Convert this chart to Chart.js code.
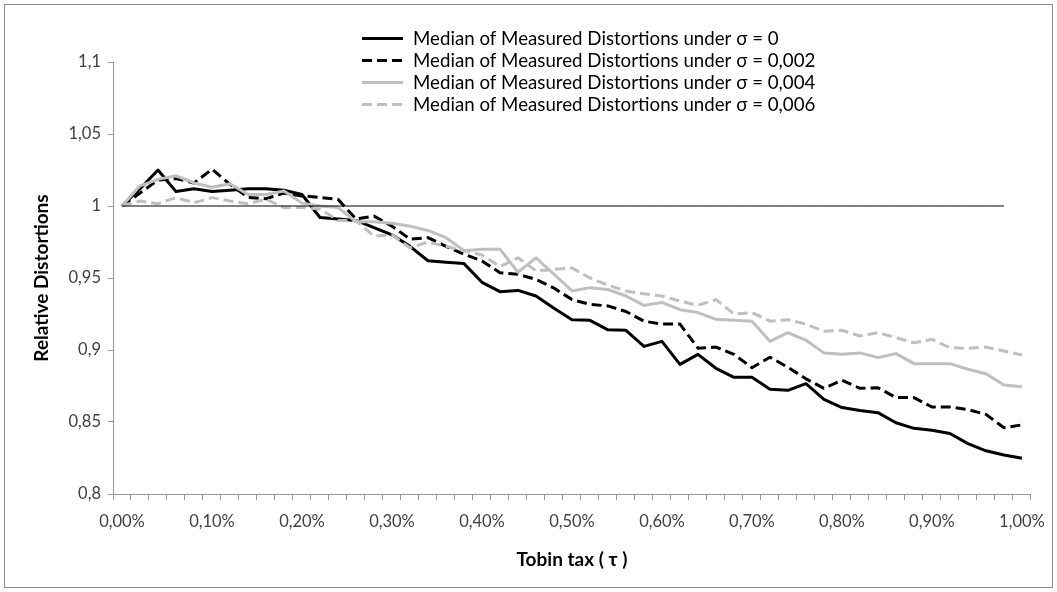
<!DOCTYPE html>
<html>
<head>
<meta charset="utf-8">
<script src="https://cdn.jsdelivr.net/npm/chart.js@4.4.1/dist/chart.umd.min.js"></script>
<style>
html,body{margin:0;padding:0;background:#ffffff;}
#wrap{width:1057px;height:592px;}
</style>
</head>
<body>
<div id="wrap"><canvas id="c" width="1057" height="592"></canvas></div>
<script>
const categories = ['0,00%','0,02%','0,04%','0,06%','0,08%','0,10%','0,12%','0,14%','0,16%','0,18%',
  '0,20%','0,22%','0,24%','0,26%','0,28%','0,30%','0,32%','0,34%','0,36%','0,38%',
  '0,40%','0,42%','0,44%','0,46%','0,48%','0,50%','0,52%','0,54%','0,56%','0,58%',
  '0,60%','0,62%','0,64%','0,66%','0,68%','0,70%','0,72%','0,74%','0,76%','0,78%',
  '0,80%','0,82%','0,84%','0,86%','0,88%','0,90%','0,92%','0,94%','0,96%','0,98%','1,00%'];

const sigma0 = [1.000,1.012,1.025,1.010,1.012,1.010,1.011,1.012,1.012,1.011,
  1.008,0.992,0.991,0.990,0.985,0.980,0.972,0.962,0.961,0.960,
  0.947,0.9405,0.9414,0.9375,0.929,0.921,0.9206,0.914,0.9137,0.9025,
  0.906,0.890,0.897,0.8873,0.881,0.881,0.8727,0.872,0.8766,0.8657,
  0.860,0.858,0.8565,0.8495,0.8456,0.8443,0.842,0.835,0.830,0.8271,0.8248];

const sigma002 = [1.000,1.009,1.018,1.019,1.016,1.0255,1.015,1.006,1.005,1.009,
  1.007,1.006,1.0046,0.991,0.993,0.986,0.977,0.978,0.972,0.9665,
  0.9618,0.9537,0.9526,0.949,0.943,0.935,0.9317,0.9306,0.9267,0.920,
  0.918,0.918,0.9013,0.902,0.897,0.8877,0.895,0.888,0.880,0.8734,
  0.879,0.8734,0.8738,0.867,0.8669,0.8604,0.8604,0.8586,0.8553,0.846,0.848];

const sigma004 = [1.000,1.014,1.0185,1.021,1.016,1.013,1.0155,1.008,1.008,1.0104,
  1.002,1.000,0.999,0.989,0.989,0.988,0.986,0.983,0.978,0.969,
  0.970,0.970,0.954,0.964,0.9526,0.941,0.9433,0.942,0.9375,0.931,
  0.933,0.928,0.926,0.9213,0.9206,0.920,0.906,0.912,0.9067,0.898,
  0.897,0.898,0.8947,0.8975,0.8905,0.8905,0.8905,0.8866,0.8835,0.8757,0.8745];

const sigma006 = [1.000,1.0035,1.0016,1.0058,1.0023,1.0058,1.0035,1.0016,1.0047,0.9988,
  0.999,0.998,0.990,0.990,0.979,0.980,0.971,0.975,0.972,0.969,
  0.966,0.958,0.964,0.955,0.956,0.957,0.950,0.945,0.941,0.939,
  0.9375,0.934,0.931,0.935,0.925,0.926,0.920,0.921,0.918,0.913,
  0.9137,0.9097,0.912,0.9086,0.905,0.9074,0.9016,0.9012,0.902,0.8993,0.8965];

const referenceLine = [1,1,1,1,1,1,1,1,1,1,
  1,1,1,1,1,1,1,1,1,1,
  1,1,1,1,1,1,1,1,1,1,
  1,1,1,1,1,1,1,1,1,1,
  1,1,1,1,1,1,1,1,1,1,null];

const seriesNames = ['Median of Measured Distortions under σ = 0',
  'Median of Measured Distortions under σ = 0,002',
  'Median of Measured Distortions under σ = 0,004',
  'Median of Measured Distortions under σ = 0,006'];

const yTicks = {min: 0.8, max: 1.1, step: 0.05};
const xLabelEvery = 5;

const FONT = 'Lato, "Open Sans", "DejaVu Sans", sans-serif';
const AXIS_GREY = '#9a9a9a';
const LIGHT = '#bfbfbf';
const DASH = [10, 5];

const frame = {
  id: 'frame',
  beforeDraw(chart) {
    const ctx = chart.ctx;
    ctx.save();
    ctx.fillStyle = '#ffffff';
    ctx.fillRect(0, 0, chart.width, chart.height);
    ctx.strokeStyle = '#8c8c8c';
    ctx.lineWidth = 1;
    ctx.strokeRect(4.5, 4.5, chart.width - 9, chart.height - 9);
    ctx.restore();
  }
};

const insideLegend = {
  id: 'insideLegend',
  afterDraw(chart) {
    const ctx = chart.ctx;
    ctx.save();
    ctx.font = '18.7px ' + FONT;
    ctx.textBaseline = 'middle';
    ctx.textAlign = 'left';
    let row = 0;
    chart.data.datasets.forEach(ds => {
      if (!ds.inLegend) return;
      const y = 38 + row * 22;
      ctx.beginPath();
      ctx.strokeStyle = ds.borderColor;
      ctx.lineWidth = ds.borderWidth;
      ctx.setLineDash(ds.borderDash || []);
      ctx.moveTo(362, y + 0.5);
      ctx.lineTo(403, y + 0.5);
      ctx.stroke();
      ctx.setLineDash([]);
      ctx.fillStyle = '#000000';
      ctx.fillText(ds.label, 413, y + 1);
      row++;
    });
    ctx.restore();
  }
};

const lineBase = {pointRadius: 0, pointHoverRadius: 0, tension: 0, fill: false, borderJoinStyle: 'round', borderCapStyle: 'butt', spanGaps: false};

new Chart(document.getElementById('c'), {
  type: 'line',
  data: {
    labels: categories,
    datasets: [
      Object.assign({label: 'ref', data: referenceLine, borderColor: '#000000', borderWidth: 1, order: 0, inLegend: false}, lineBase),
      Object.assign({label: seriesNames[0], data: sigma0, borderColor: '#000000', borderWidth: 3, order: 4, inLegend: true}, lineBase),
      Object.assign({label: seriesNames[1], data: sigma002, borderColor: '#000000', borderWidth: 3, borderDash: DASH, order: 3, inLegend: true}, lineBase),
      Object.assign({label: seriesNames[2], data: sigma004, borderColor: LIGHT, borderWidth: 3, order: 2, inLegend: true}, lineBase),
      Object.assign({label: seriesNames[3], data: sigma006, borderColor: LIGHT, borderWidth: 3, borderDash: DASH, order: 1, inLegend: true}, lineBase)
    ]
  },
  options: {
    responsive: false,
    animation: false,
    devicePixelRatio: 1,
    layout: {padding: {top: 62, right: 22, bottom: 0, left: 0}},
    plugins: {legend: {display: false}, tooltip: {enabled: false}},
    events: [],
    scales: {
      x: {
        type: 'category',
        offset: true,
        afterFit(scale) { scale.height = 98; },
        grid: {display: true, drawOnChartArea: false, drawTicks: true, tickLength: 6, offset: true, color: AXIS_GREY},
        border: {display: true, color: AXIS_GREY, width: 1},
        ticks: {
          autoSkip: false, maxRotation: 0, minRotation: 0, padding: 12,
          color: '#404040', font: {family: FONT, size: 16.5},
          callback(value, index) { return index % xLabelEvery === 0 ? categories[index] : ''; }
        },
        title: {display: true, text: 'Tobin tax ( τ )', color: '#000000', font: {family: FONT, size: 19, weight: 'bold'}, padding: {top: 0, bottom: 21}}
      },
      y: {
        type: 'linear',
        min: yTicks.min, max: yTicks.max,
        afterFit(scale) { scale.width = 113; },
        grid: {display: true, drawOnChartArea: false, drawTicks: true, tickLength: 5, color: AXIS_GREY},
        border: {display: true, color: AXIS_GREY, width: 1},
        ticks: {
          stepSize: yTicks.step, padding: 7, color: '#404040', font: {family: FONT, size: 16.5},
          callback(value) { return String(Math.round(value * 100) / 100).replace('.', ','); }
        },
        title: {display: true, text: 'Relative Distortions', color: '#000000', font: {family: FONT, size: 19, weight: 'bold'}, padding: {top: 30, bottom: 0}}
      }
    }
  },
  plugins: [frame, insideLegend]
});
</script>
</body>
</html>
